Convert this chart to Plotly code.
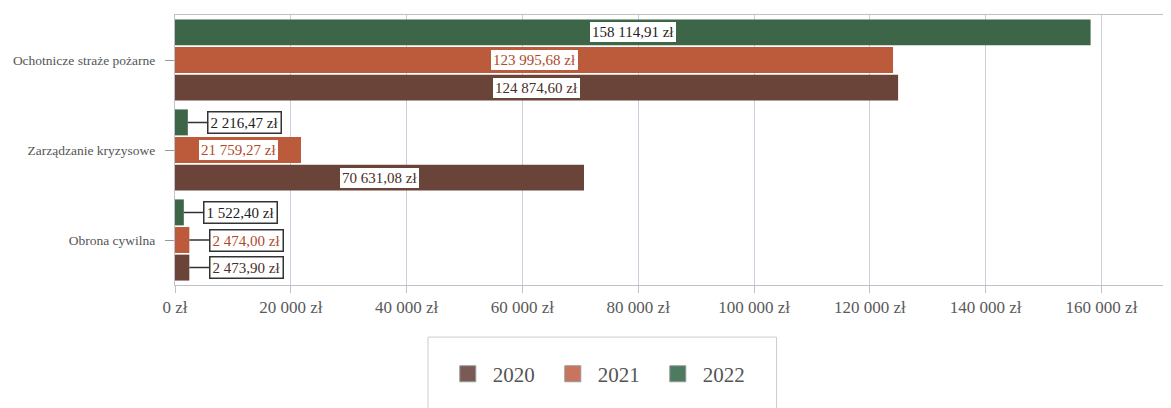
import plotly.graph_objects as go

categories = ["Obrona cywilna", "Zarządzanie kryzysowe", "Ochotnicze straże pożarne"]
years = ["2020", "2021", "2022"]
values_2020 = [2473.90, 70631.08, 124874.60]
values_2021 = [2474.00, 21759.27, 123995.68]
values_2022 = [1522.40, 2216.47, 158114.91]
x_tickvals = [0, 20000, 40000, 60000, 80000, 100000, 120000, 140000, 160000]
x_ticktext = ["0 zł", "20 000 zł", "40 000 zł", "60 000 zł", "80 000 zł",
              "100 000 zł", "120 000 zł", "140 000 zł", "160 000 zł"]

colors = {"2020": "#6b4439", "2021": "#bb5b3c", "2022": "#3d6547"}
legend_colors = {"2020": "#7a5a55", "2021": "#c8745e", "2022": "#4e7a60"}
text_colors = {"2020": "#4a2e28", "2021": "#b04a28", "2022": "#222222"}
series = {"2020": values_2020, "2021": values_2021, "2022": values_2022}

FONT = "Liberation Serif"


def fmt(v):
    s = f"{v:,.2f}"
    ip, dp = s.split(".")
    return ip.replace(",", " ") + "," + dp + " zł"


fig = go.Figure()
for yr in years:
    fig.add_trace(go.Bar(
        y=categories, x=series[yr], name=yr, orientation="h",
        marker=dict(color=colors[yr], line=dict(width=0)),
        showlegend=False,
    ))
# legend proxies with larger square swatches
for yr in years:
    fig.add_trace(go.Scatter(
        x=[None], y=[None], mode="markers", name=yr,
        marker=dict(symbol="square", size=30, color=legend_colors[yr],
                    line=dict(width=1, color="#999999")),
        showlegend=True,
    ))

bargap = 0.08
slot = (1 - bargap) / 3
offsets = {"2020": -slot, "2021": 0.0, "2022": slot}
small_threshold = 10000

annotations = []
for yr in years:
    for i, v in enumerate(series[yr]):
        ypos = i + offsets[yr]
        common = dict(
            y=ypos, yref="y", xref="x", text=fmt(v),
            font=dict(family=FONT, size=15, color=text_colors[yr]),
            bgcolor="white", borderpad=2,
        )
        if v < small_threshold:
            annotations.append(dict(
                x=v, showarrow=True, arrowhead=0, arrowwidth=1.5,
                arrowcolor="#333333", ax=57, ay=0,
                bordercolor="#333333", borderwidth=1.5, **common))
        else:
            annotations.append(dict(x=v / 2, showarrow=False,
                                    borderwidth=0, **common))

# The page body adds an 8px offset, so the figure is sized to fit the window.
fig.update_layout(
    width=1163, height=400,
    margin=dict(l=167, r=0, t=7, b=123, autoexpand=False),
    paper_bgcolor="white", plot_bgcolor="white",
    barmode="group", bargap=bargap, bargroupgap=0.06,
    font=dict(family=FONT, color="#555555"),
    annotations=annotations,
    shapes=[dict(type="rect", xref="paper", yref="paper",
                 x0=0.254, x1=0.604, y0=-0.475, y1=-0.193,
                 line=dict(color="#cccccc", width=1), fillcolor="rgba(0,0,0,0)")],
    legend=dict(
        orientation="h", x=0.427, xanchor="center", y=-0.33, yanchor="middle",
        font=dict(family=FONT, size=21, color="#555555"),
        borderwidth=0, bgcolor="rgba(0,0,0,0)",
        traceorder="normal", itemwidth=40, itemsizing="trace",
        entrywidth=50, entrywidthmode="pixels",
    ),
    xaxis=dict(
        range=[0, 172000], tickvals=x_tickvals, ticktext=x_ticktext,
        tickfont=dict(family=FONT, size=17, color="#5a5a5a"),
        showgrid=True, gridcolor="#cdd0dc", gridwidth=1,
        showline=True, linecolor="#c0c0c8", linewidth=1, mirror=True,
        ticks="outside", ticklen=7, tickcolor="#c0c0c8",
        zeroline=False, fixedrange=True, automargin=False,
    ),
    yaxis=dict(
        tickfont=dict(family=FONT, size=13.5, color="#555555"),
        showline=True, linecolor="#c0c0c8", linewidth=1,
        ticks="outside", ticklen=9, tickcolor="#999999",
        ticklabelstandoff=7,
        showgrid=False, fixedrange=True, automargin=False,
    ),
)

fig.write_html("out.html")
